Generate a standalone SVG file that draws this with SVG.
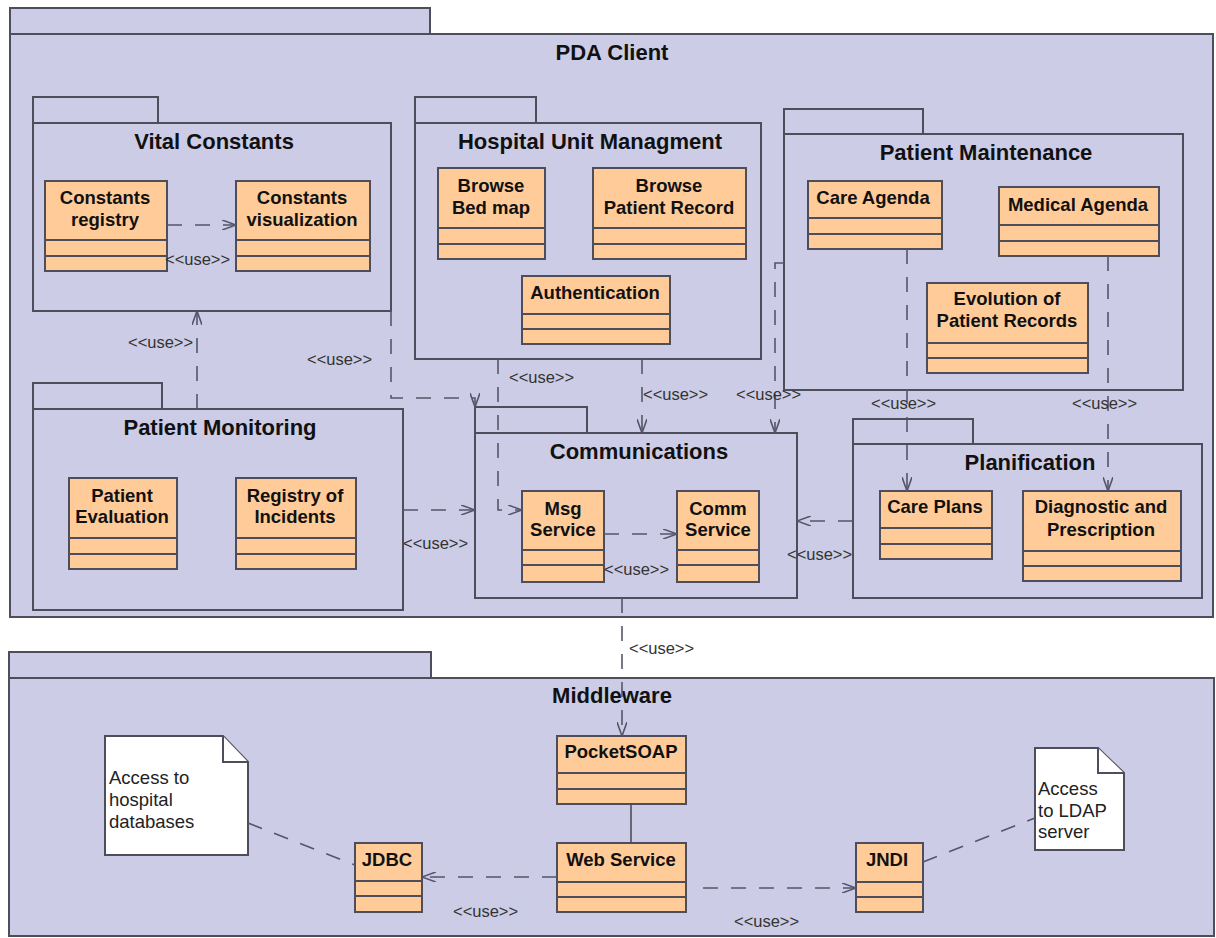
<svg xmlns="http://www.w3.org/2000/svg" width="1216" height="938" viewBox="0 0 1216 938">
<style>
.pkg{fill:#CCCCE6;stroke:#4d4d5c;stroke-width:2}
.cls{fill:#FFCC99;stroke:#4d4d5c;stroke-width:2}
.div{stroke:#4d4d5c;stroke-width:2}
.note{fill:#FFFFFF;stroke:#4d4d5c;stroke-width:2}
.ptitle{font-family:"Liberation Sans",Arial,sans-serif;font-weight:bold;font-size:22px;fill:#111;text-anchor:middle}
.cname{font-family:"Liberation Sans",Arial,sans-serif;font-weight:bold;font-size:18.5px;fill:#111;text-anchor:middle}
.ntext{font-family:"Liberation Sans",Arial,sans-serif;font-size:18.5px;fill:#222}
.lbl{font-family:"Liberation Sans",Arial,sans-serif;font-size:16.5px;fill:#333}
.dep{fill:none;stroke:#55556a;stroke-width:1.6;stroke-dasharray:15 13}
.solid{fill:none;stroke:#4d4d5c;stroke-width:1.6}
</style>
<defs>
<marker id="arr" viewBox="0 0 14 10" refX="14" refY="5" markerWidth="14" markerHeight="10" markerUnits="userSpaceOnUse" orient="auto">
<path d="M0,0 L14,5 L0,10" fill="none" stroke="#55556a" stroke-width="1.6" stroke-dasharray="none"/>
</marker>
</defs>
<rect x="0" y="0" width="1216" height="938" fill="#FFFFFF"/>

<g id="pda-client">
<rect class="pkg" x="10" y="8" width="420" height="26"/>
<rect class="pkg" x="10" y="34" width="1203" height="583"/>
<text class="ptitle" x="612" y="60">PDA Client</text>
</g>

<g id="middleware">
<rect class="pkg" x="9" y="652" width="422" height="26"/>
<rect class="pkg" x="9" y="678" width="1205" height="258"/>
<text class="ptitle" x="612" y="703">Middleware</text>
</g>

<g id="vital-constants">
<rect class="pkg" x="33" y="97" width="125" height="26"/>
<rect class="pkg" x="33" y="123" width="358" height="188"/>
<text class="ptitle" x="214" y="149">Vital Constants</text>
</g>

<g id="hospital-unit">
<rect class="pkg" x="415" y="97" width="121" height="26"/>
<rect class="pkg" x="415" y="123" width="346" height="236"/>
<text class="ptitle" x="590" y="149">Hospital Unit Managment</text>
</g>

<g id="patient-maintenance">
<rect class="pkg" x="784" y="109" width="139" height="25"/>
<rect class="pkg" x="784" y="134" width="399" height="256"/>
<text class="ptitle" x="986" y="160">Patient Maintenance</text>
</g>

<g id="patient-monitoring">
<rect class="pkg" x="33" y="383" width="129" height="26"/>
<rect class="pkg" x="33" y="409" width="370" height="201"/>
<text class="ptitle" x="220" y="435">Patient Monitoring</text>
</g>

<g id="communications">
<rect class="pkg" x="475" y="407" width="112" height="26"/>
<rect class="pkg" x="475" y="433" width="322" height="165"/>
<text class="ptitle" x="639" y="459">Communications</text>
</g>

<g id="planification">
<rect class="pkg" x="853" y="419" width="120" height="25"/>
<rect class="pkg" x="853" y="444" width="349" height="154"/>
<text class="ptitle" x="1030" y="470">Planification</text>
</g>

<g id="constants-registry">
<rect class="cls" x="45" y="181" width="122" height="90"/>
<line class="div" x1="45" y1="240" x2="167" y2="240"/><line class="div" x1="45" y1="256" x2="167" y2="256"/>
<text class="cname" x="105" y="204">Constants</text><text class="cname" x="105" y="226">registry</text>
</g>
<g id="constants-visualization">
<rect class="cls" x="236" y="181" width="134" height="90"/>
<line class="div" x1="236" y1="240" x2="370" y2="240"/><line class="div" x1="236" y1="256" x2="370" y2="256"/>
<text class="cname" x="302" y="204">Constants</text><text class="cname" x="302" y="226">visualization</text>
</g>
<g id="browse-bed-map">
<rect class="cls" x="438" y="168" width="107" height="91"/>
<line class="div" x1="438" y1="228" x2="545" y2="228"/><line class="div" x1="438" y1="244" x2="545" y2="244"/>
<text class="cname" x="491" y="192">Browse</text><text class="cname" x="491" y="214">Bed map</text>
</g>
<g id="browse-patient-record">
<rect class="cls" x="593" y="168" width="153" height="91"/>
<line class="div" x1="593" y1="228" x2="746" y2="228"/><line class="div" x1="593" y1="244" x2="746" y2="244"/>
<text class="cname" x="669" y="192">Browse</text><text class="cname" x="669" y="214">Patient Record</text>
</g>
<g id="authentication">
<rect class="cls" x="522" y="276" width="148" height="68"/>
<line class="div" x1="522" y1="314" x2="670" y2="314"/><line class="div" x1="522" y1="329" x2="670" y2="329"/>
<text class="cname" x="595" y="299">Authentication</text>
</g>
<g id="care-agenda">
<rect class="cls" x="808" y="181" width="134" height="68"/>
<line class="div" x1="808" y1="218" x2="942" y2="218"/><line class="div" x1="808" y1="234" x2="942" y2="234"/>
<text class="cname" x="873" y="204">Care Agenda</text>
</g>
<g id="medical-agenda">
<rect class="cls" x="999" y="187" width="160" height="69"/>
<line class="div" x1="999" y1="225" x2="1159" y2="225"/><line class="div" x1="999" y1="241" x2="1159" y2="241"/>
<text class="cname" x="1078" y="211">Medical Agenda</text>
</g>
<g id="evolution-records">
<rect class="cls" x="927" y="283" width="161" height="90"/>
<line class="div" x1="927" y1="343" x2="1088" y2="343"/><line class="div" x1="927" y1="358" x2="1088" y2="358"/>
<text class="cname" x="1007" y="305">Evolution of</text><text class="cname" x="1007" y="327">Patient Records</text>
</g>
<g id="patient-evaluation">
<rect class="cls" x="69" y="478" width="108" height="91"/>
<line class="div" x1="69" y1="538" x2="177" y2="538"/><line class="div" x1="69" y1="554" x2="177" y2="554"/>
<text class="cname" x="122" y="502">Patient</text><text class="cname" x="122" y="523">Evaluation</text>
</g>
<g id="registry-incidents">
<rect class="cls" x="236" y="478" width="120" height="91"/>
<line class="div" x1="236" y1="538" x2="356" y2="538"/><line class="div" x1="236" y1="554" x2="356" y2="554"/>
<text class="cname" x="295" y="502">Registry of</text><text class="cname" x="295" y="523">Incidents</text>
</g>
<g id="msg-service">
<rect class="cls" x="522" y="491" width="82" height="91"/>
<line class="div" x1="522" y1="550" x2="604" y2="550"/><line class="div" x1="522" y1="565" x2="604" y2="565"/>
<text class="cname" x="563" y="515">Msg</text><text class="cname" x="563" y="536">Service</text>
</g>
<g id="comm-service">
<rect class="cls" x="677" y="491" width="82" height="91"/>
<line class="div" x1="677" y1="550" x2="759" y2="550"/><line class="div" x1="677" y1="565" x2="759" y2="565"/>
<text class="cname" x="718" y="515">Comm</text><text class="cname" x="718" y="536">Service</text>
</g>
<g id="care-plans">
<rect class="cls" x="880" y="491" width="112" height="68"/>
<line class="div" x1="880" y1="528" x2="992" y2="528"/><line class="div" x1="880" y1="544" x2="992" y2="544"/>
<text class="cname" x="935" y="513">Care Plans</text>
</g>
<g id="diagnostic-prescription">
<rect class="cls" x="1023" y="491" width="158" height="90"/>
<line class="div" x1="1023" y1="551" x2="1181" y2="551"/><line class="div" x1="1023" y1="566" x2="1181" y2="566"/>
<text class="cname" x="1101" y="513">Diagnostic and</text><text class="cname" x="1101" y="536">Prescription</text>
</g>
<g id="pocketsoap">
<rect class="cls" x="557" y="736" width="129" height="68"/>
<line class="div" x1="557" y1="773" x2="686" y2="773"/><line class="div" x1="557" y1="789" x2="686" y2="789"/>
<text class="cname" x="621" y="758">PocketSOAP</text>
</g>
<g id="web-service">
<rect class="cls" x="557" y="843" width="129" height="69"/>
<line class="div" x1="557" y1="882" x2="686" y2="882"/><line class="div" x1="557" y1="897" x2="686" y2="897"/>
<text class="cname" x="621" y="866">Web Service</text>
</g>
<g id="jdbc">
<rect class="cls" x="355" y="843" width="67" height="69"/>
<line class="div" x1="355" y1="881" x2="422" y2="881"/><line class="div" x1="355" y1="896" x2="422" y2="896"/>
<text class="cname" x="387" y="866">JDBC</text>
</g>
<g id="jndi">
<rect class="cls" x="856" y="843" width="67" height="69"/>
<line class="div" x1="856" y1="882" x2="923" y2="882"/><line class="div" x1="856" y1="897" x2="923" y2="897"/>
<text class="cname" x="887" y="866">JNDI</text>
</g>
<g id="note-databases">
<path class="note" d="M105,736 H223 L248,762 V855 H105 Z"/>
<path class="note" d="M223,736 V762 H248"/>
<text class="ntext" x="109" y="784">Access to</text><text class="ntext" x="109" y="806">hospital</text><text class="ntext" x="109" y="828">databases</text>
</g>
<g id="note-ldap">
<path class="note" d="M1035,748 H1098 L1124,773 V850 H1035 Z"/>
<path class="note" d="M1098,748 V773 H1124"/>
<text class="ntext" x="1038" y="795">Access</text><text class="ntext" x="1038" y="817">to LDAP</text><text class="ntext" x="1038" y="838">server</text>
</g>

<g id="connectors">
<path class="dep" d="M167,225 H236" marker-end="url(#arr)"/>
<path class="dep" d="M197,409 V311" marker-end="url(#arr)"/>
<path class="dep" d="M391,311 V398 H475 V407" marker-end="url(#arr)"/>
<path class="dep" d="M498,359 V510 H522" marker-end="url(#arr)"/>
<path class="dep" d="M642,359 V433" marker-end="url(#arr)"/>
<path class="dep" d="M784,263 H775 V433" marker-end="url(#arr)"/>
<path class="dep" d="M403,510 H475" marker-end="url(#arr)"/>
<path class="dep" d="M604,534 H677" marker-end="url(#arr)"/>
<path class="dep" d="M853,521 H797" marker-end="url(#arr)"/>
<path class="dep" d="M907,249 V491" marker-end="url(#arr)"/>
<path class="dep" d="M1108,256 V491" marker-end="url(#arr)"/>
<path class="dep" d="M622,598 V736" marker-end="url(#arr)"/>
<path class="solid" d="M631,804 V843"/>
<path class="dep" d="M557,877 H422" marker-end="url(#arr)"/>
<path class="dep" d="M703,888 H856" marker-end="url(#arr)"/>
<path class="dep" d="M248,823 L355,865"/>
<path class="dep" d="M923,862 L1035,818"/>
<text class="lbl" x="165" y="265">&lt;&lt;use&gt;&gt;</text>
<text class="lbl" x="128" y="348">&lt;&lt;use&gt;&gt;</text>
<text class="lbl" x="307" y="365">&lt;&lt;use&gt;&gt;</text>
<text class="lbl" x="509" y="383">&lt;&lt;use&gt;&gt;</text>
<text class="lbl" x="643" y="400">&lt;&lt;use&gt;&gt;</text>
<text class="lbl" x="736" y="400">&lt;&lt;use&gt;&gt;</text>
<text class="lbl" x="403" y="549">&lt;&lt;use&gt;&gt;</text>
<text class="lbl" x="604" y="575">&lt;&lt;use&gt;&gt;</text>
<text class="lbl" x="787" y="560">&lt;&lt;use&gt;&gt;</text>
<text class="lbl" x="871" y="409">&lt;&lt;use&gt;&gt;</text>
<text class="lbl" x="1072" y="409">&lt;&lt;use&gt;&gt;</text>
<text class="lbl" x="629" y="654">&lt;&lt;use&gt;&gt;</text>
<text class="lbl" x="453" y="917">&lt;&lt;use&gt;&gt;</text>
<text class="lbl" x="734" y="927">&lt;&lt;use&gt;&gt;</text>
</g>
</svg>
